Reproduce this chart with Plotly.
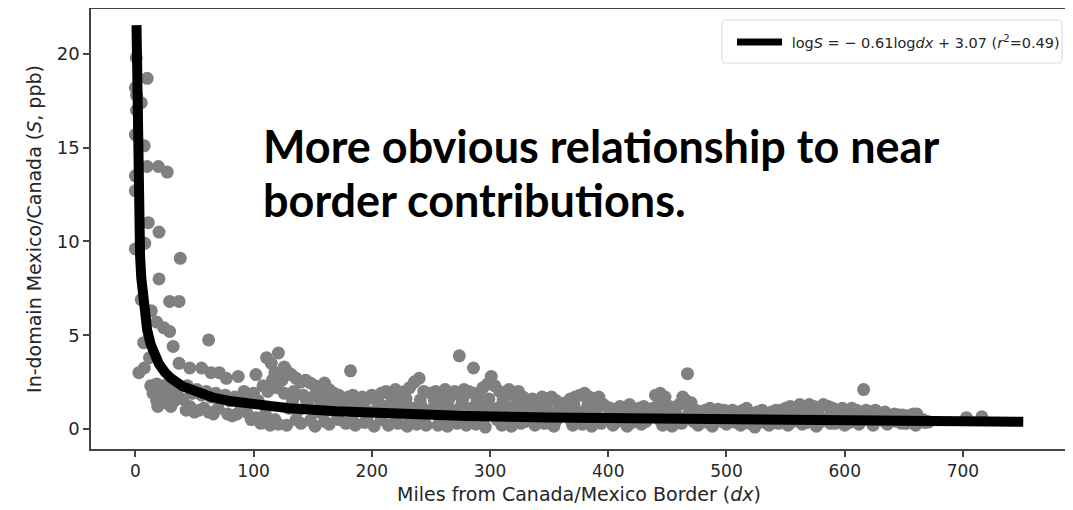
import math
import plotly.graph_objects as go

# ---- data: (dx miles, S ppb) ----
steep_pts = [(0.8, 19.8), (10, 18.7), (0, 18.2), (1, 17.8), (5, 17.4), (1, 17.0), (0, 15.7),
             (7.5, 15.1), (10, 14.0), (19.5, 14.0), (27, 13.7), (0, 13.5), (0, 12.7), (11, 11.0),
             (20, 10.5), (0, 9.6), (8, 9.9), (38, 9.1), (20, 8.0), (5, 6.9), (29, 6.8), (37, 6.8)]
knee_pts = [(13.5, 6.3), (18, 5.7), (24, 5.4), (29, 5.2), (62, 4.75), (7, 4.6), (32, 4.4), (12, 3.8),
            (37, 3.5), (46, 3.25), (56, 3.25), (64, 3.0), (71, 3.0), (77, 2.7), (87, 2.8), (102, 2.9),
            (111, 3.8), (121, 4.05), (115, 3.5), (3, 3.0), (7.6, 3.25),
            (13, 2.3), (18, 2.4), (24, 2.3), (31, 2.1), (15, 1.9), (22, 1.8), (28, 1.7), (35, 1.9),
            (18, 1.5), (26, 1.4), (33, 1.5), (40, 1.6), (19, 1.2), (30, 1.2), (43, 1.0), (58, 1.1)]
near_pts = [(44, 2.3), (48, 1.9), (52, 2.1), (56, 1.8), (60, 2.0), (64, 1.7), (68, 1.9), (72, 1.6),
            (76, 1.8), (80, 1.5), (84, 1.7), (88, 1.4), (92, 2.0), (96, 1.6), (100, 1.9), (104, 1.5),
            (108, 2.3), (112, 2.0), (116, 2.6), (120, 2.2), (46, 1.2), (54, 1.0), (62, 0.9), (70, 1.1),
            (78, 0.8), (86, 0.8), (94, 0.9), (102, 0.6), (110, 0.8), (118, 0.5), (50, 0.9), (66, 0.8),
            (82, 0.7), (98, 0.5), (106, 0.3), (114, 0.2), (121, 0.25), (118, 3.0), (126, 3.3), (128, 2.9)]
band_a_pts = [(124, 2.6), (128, 3.1), (132, 2.9), (136, 2.7), (140, 2.5), (144, 2.6), (148, 2.45),
              (152, 2.3), (156, 2.2), (160, 2.45), (164, 2.1), (168, 1.9), (126, 1.9), (134, 2.0),
              (142, 1.8), (150, 1.7), (158, 1.6), (166, 1.5), (130, 1.1), (138, 1.0), (146, 1.2),
              (154, 0.9), (162, 1.0), (170, 0.8), (128, 0.2), (140, 0.3), (152, 0.15), (164, 0.25),
              (172, 1.8), (176, 1.6), (180, 1.7), (184, 1.8), (188, 1.5), (192, 1.7), (196, 1.6),
              (200, 1.8), (204, 1.5), (174, 1.1), (182, 1.0), (190, 1.2), (198, 0.9), (206, 1.1),
              (178, 0.3), (186, 0.2), (194, 0.35), (202, 0.15), (182, 3.1),
              (208, 1.9), (212, 2.0), (216, 1.8), (220, 2.1), (224, 1.9), (228, 2.0), (232, 2.2),
              (236, 2.5), (240, 2.7), (244, 2.0), (210, 1.2), (218, 1.0), (226, 1.3), (234, 1.1),
              (242, 1.2), (214, 0.2), (222, 0.3), (230, 0.15), (238, 0.25), (246, 0.2)]
band_b_pts = [(250, 1.9), (254, 2.0), (258, 1.8), (262, 2.1), (266, 1.9), (270, 2.0), (274, 1.8),
              (278, 2.1), (282, 2.0), (286, 1.9), (290, 1.7), (294, 2.2), (298, 2.4), (252, 1.1),
              (260, 1.2), (268, 1.0), (276, 1.3), (284, 1.1), (292, 1.2), (300, 1.0), (256, 0.2),
              (264, 0.15), (272, 0.3), (280, 0.2), (288, 0.25), (296, 0.1), (274, 3.9), (286, 3.25),
              (301, 2.8), (304, 2.3), (308, 2.0), (312, 1.9), (316, 2.1), (320, 1.8), (324, 2.0),
              (328, 1.7), (306, 1.1), (314, 1.2), (322, 1.0), (330, 1.1), (310, 0.2), (318, 0.15),
              (326, 0.3), (332, 1.5), (336, 1.6), (340, 1.4), (344, 1.7), (348, 1.6), (352, 1.7),
              (356, 1.5), (360, 1.3), (334, 0.9), (342, 1.0), (350, 0.9), (358, 1.0), (338, 0.2),
              (346, 0.3), (354, 0.15)]
band_c_pts = [(364, 1.4), (368, 1.6), (372, 1.7), (376, 1.8), (380, 1.9), (384, 1.7), (388, 1.6),
              (392, 1.7), (366, 1.0), (374, 0.9), (382, 1.1), (390, 1.0), (370, 0.2), (378, 0.25),
              (386, 0.15), (394, 0.3), (398, 1.2), (402, 1.1), (406, 1.0), (410, 1.2), (414, 1.1),
              (418, 1.3), (422, 1.0), (426, 1.1), (430, 1.2), (434, 1.0), (438, 1.1), (400, 0.6),
              (412, 0.7), (424, 0.6), (436, 0.7), (404, 0.2), (416, 0.15), (428, 0.25),
              (440, 1.8), (444, 1.9), (448, 1.7), (452, 1.2), (456, 1.1), (460, 1.3), (463, 1.7),
              (466, 1.5), (470, 1.4), (442, 0.7), (450, 0.8), (458, 0.7), (468, 0.8), (446, 0.2),
              (454, 0.15), (462, 0.3), (467, 2.95)]
band_d_pts = [(474, 1.0), (478, 0.9), (482, 1.0), (486, 1.1), (490, 0.9), (494, 0.8), (498, 1.0),
              (502, 0.9), (506, 0.8), (510, 0.9), (514, 1.0), (518, 0.9), (522, 0.8), (526, 0.9),
              (530, 1.0), (534, 0.8), (538, 0.9), (542, 1.0), (480, 0.6), (492, 0.55), (504, 0.6),
              (516, 0.5), (528, 0.55), (540, 0.6), (476, 0.2), (488, 0.15), (500, 0.25), (512, 0.2),
              (524, 0.1), (536, 0.2),
              (546, 1.0), (550, 1.1), (554, 1.2), (558, 1.1), (562, 1.3), (566, 1.2), (570, 1.3),
              (574, 1.2), (578, 1.1), (582, 1.3), (586, 1.2), (590, 1.1), (594, 1.0), (598, 1.1),
              (602, 1.0), (606, 1.1), (610, 1.0), (548, 0.6), (560, 0.5), (572, 0.6), (584, 0.55),
              (596, 0.5), (608, 0.6), (552, 0.2), (564, 0.25), (576, 0.15), (588, 0.3), (600, 0.2),
              (612, 0.25), (616, 2.1)]
tail_pts = [(618, 1.0), (622, 0.9), (626, 1.0), (630, 0.8), (634, 0.9), (638, 0.7), (642, 0.8),
            (646, 0.75), (650, 0.6), (654, 0.7), (658, 0.8), (662, 0.6), (666, 0.5), (670, 0.4),
            (620, 0.5), (632, 0.45), (644, 0.4), (656, 0.5), (668, 0.35), (624, 0.2), (636, 0.25),
            (648, 0.3), (660, 0.2), (649, 0.75), (661, 0.8), (671, 0.37), (703, 0.6), (716, 0.65)]
fill_mid_pts = [(133, 1.5), (145, 1.45), (157, 1.3), (169, 1.3), (181, 1.35), (193, 1.4), (205, 1.45),
                (217, 1.5), (229, 1.6), (241, 1.55), (253, 1.5), (265, 1.55), (277, 1.6), (289, 1.5),
                (299, 1.6), (311, 1.55), (323, 1.5), (335, 1.3), (347, 1.25), (359, 1.2), (371, 1.3),
                (383, 1.4), (395, 1.35), (407, 0.9), (419, 0.85), (431, 0.9), (443, 1.3), (455, 0.95),
                (469, 1.1), (481, 0.8), (493, 1.05), (505, 1.0), (517, 1.1), (529, 0.8), (541, 0.8),
                (553, 0.9), (565, 0.85), (577, 0.9), (589, 0.85), (601, 0.8), (613, 0.75)]
fill_low_pts = [(136, 0.5), (148, 0.45), (160, 0.4), (172, 0.5), (184, 0.45), (196, 0.55), (208, 0.5),
                (220, 0.45), (232, 0.5), (244, 0.45), (258, 0.5), (270, 0.55), (282, 0.45), (294, 0.5),
                (306, 0.5), (318, 0.45), (330, 0.4), (342, 0.5), (356, 0.45), (368, 0.5), (380, 0.4),
                (392, 0.45), (408, 0.4), (420, 0.35), (432, 0.4), (444, 0.45), (456, 0.4), (472, 0.4),
                (484, 0.35), (496, 0.4), (508, 0.35), (520, 0.3), (532, 0.35), (544, 0.3), (556, 0.4),
                (568, 0.35), (580, 0.4), (592, 0.3), (604, 0.35), (628, 0.5), (640, 0.55), (652, 0.3),
                (664, 0.4)]

# fit shown in the legend: ln S = -0.61 ln dx + 3.07
fit_slope = -0.61
fit_intercept = 3.07
fit_dx = [1, 1.5, 2, 3, 4, 5, 6, 8, 10, 13, 16, 20, 25, 30, 40, 50, 65, 80, 100, 130, 170,
          220, 280, 350, 430, 520, 620, 700, 751]
fit_label = "\u00a0log<i>S</i> = \u2212 0.61log<i>dx</i> + 3.07 (<i>r</i><sup>2</sup>=0.49)"

x_ticks = [0, 100, 200, 300, 400, 500, 600, 700]
y_ticks = [0, 5, 10, 15, 20]

all_pts = (steep_pts + knee_pts + near_pts + band_a_pts + band_b_pts + band_c_pts + band_d_pts
           + tail_pts + fill_mid_pts + fill_low_pts)
sx = [p[0] for p in all_pts]
sy = [p[1] for p in all_pts]
fit_s = [math.exp(fit_intercept) * d ** fit_slope for d in fit_dx]

FONT = "DejaVu Sans"
TXT = "#262626"

fig = go.Figure()
fig.add_trace(go.Scatter(x=sx, y=sy, mode="markers", showlegend=False,
                         marker=dict(size=13, color="#808080", line=dict(width=0))))
fig.add_trace(go.Scatter(x=fit_dx, y=fit_s, mode="lines", showlegend=False,
                         line=dict(color="black", width=10)))
# legend entry for the fit (thinner sample line, as in the reference legend)
fig.add_trace(go.Scatter(x=[None], y=[None], mode="lines", name=fit_label,
                         line=dict(color="black", width=7)))

axis_common = dict(showline=True, mirror=True, linecolor="#444", linewidth=1.5,
                   ticks="outside", ticklen=6, tickwidth=1.5, tickcolor="#444",
                   showgrid=False, zeroline=False, automargin=False)

# legend frame (rounded), in paper coordinates
bx0, bx1, by0, by1 = 0.6465, 0.9949, 0.8773, 0.975
rx, ry = 0.0041, 0.0091
box_path = (f"M {bx0+rx},{by0} L {bx1-rx},{by0} Q {bx1},{by0} {bx1},{by0+ry} "
            f"L {bx1},{by1-ry} Q {bx1},{by1} {bx1-rx},{by1} L {bx0+rx},{by1} "
            f"Q {bx0},{by1} {bx0},{by1-ry} L {bx0},{by0+ry} Q {bx0},{by0} {bx0+rx},{by0} Z")

fig.update_layout(
    width=1065, height=502,
    margin=dict(l=83, r=6, t=1, b=61),
    paper_bgcolor="white", plot_bgcolor="white",
    font=dict(family=FONT, color=TXT),
    xaxis=dict(range=[-37.5, 788], tickvals=x_ticks,
               tickfont=dict(family=FONT, size=17, color=TXT),
               title=dict(text="Miles from Canada/Mexico Border (<i>dx</i>)",
                          font=dict(family=FONT, size=19, color=TXT), standoff=8),
               **axis_common),
    yaxis=dict(range=[-1.07, 22.4], tickvals=y_ticks,
               tickfont=dict(family=FONT, size=18, color=TXT),
               title=dict(text="In-domain Mexico/Canada (<i>S</i>, ppb)",
                          font=dict(family=FONT, size=19, color=TXT), standoff=10),
               **axis_common),
    legend=dict(x=0.6568, y=0.925, xanchor="left", yanchor="middle", itemwidth=45,
                bgcolor="rgba(0,0,0,0)", borderwidth=0,
                font=dict(family=FONT, size=14.5, color=TXT)),
    shapes=[dict(type="path", xref="paper", yref="paper", path=box_path,
                 line=dict(color="#d6d6d6", width=1),
                 fillcolor="rgba(255,255,255,0.8)", layer="above")],
    annotations=[
        dict(x=106.5, y=16.62, xref="x", yref="y", xanchor="left", yanchor="top",
             showarrow=False, text="<b>More obvious relationship to near</b>",
             font=dict(family="Lato", size=45, color="black")),
        dict(x=106.5, y=13.74, xref="x", yref="y", xanchor="left", yanchor="top",
             showarrow=False, text="<b>border contributions.</b>",
             font=dict(family="Lato", size=45, color="black")),
    ],
)

fig.write_html("out.html")
